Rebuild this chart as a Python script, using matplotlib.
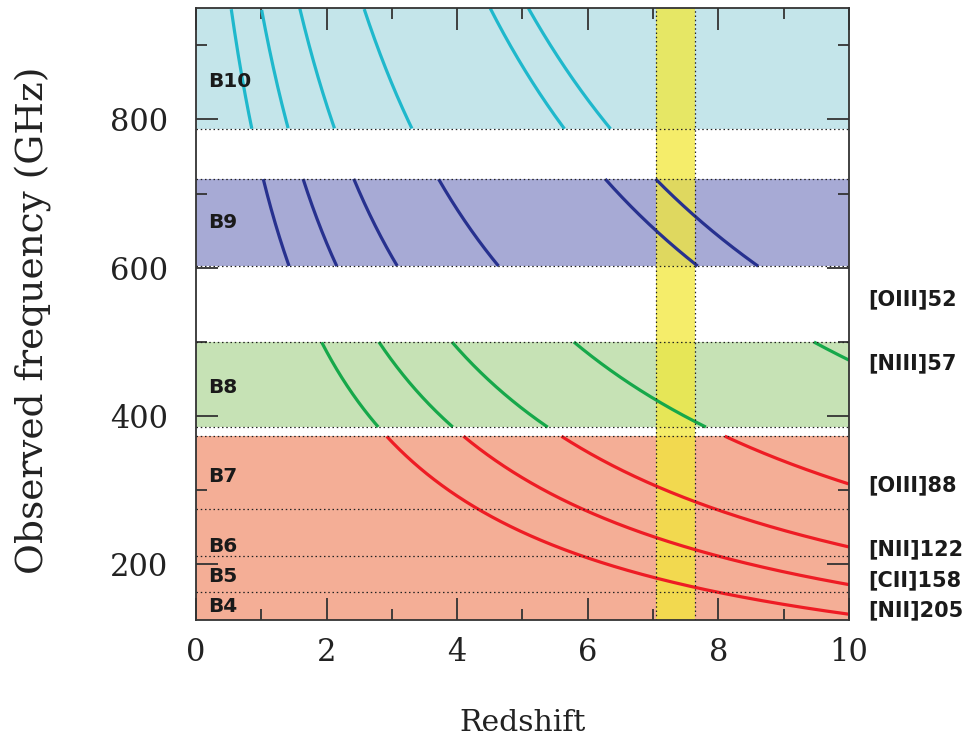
import numpy as np
import matplotlib
matplotlib.use("Agg")
import matplotlib.pyplot as plt
from matplotlib.ticker import MultipleLocator

# ALMA receiver bands (GHz)
band_names = ["B4", "B5", "B6", "B7", "B8", "B9", "B10"]
band_lo = [125, 163, 211, 275, 385, 602, 787]
band_hi = [163, 211, 275, 373, 500, 720, 950]
band_label_y = [143, 184, 224, 318, 439, 661, 851]

# Contiguous coloured regions (B4-B7 share one colour)
region_lo = [125, 385, 602, 787]
region_hi = [373, 500, 720, 950]
region_fill = ["#f4ae96", "#c6e2b5", "#a7aad5", "#c4e5ea"]
region_line = ["#ee1c24", "#16a84a", "#27318f", "#1fb8cc"]

# Far-infrared fine-structure lines: rest frequencies (GHz)
line_names = ["[OIII]52", "[NIII]57", "[OIII]88", "[NII]122", "[CII]158", "[NII]205"]
rest_freq = [5785.9, 5230.4, 3393.0, 2459.4, 1900.5, 1461.1]
label_y = [558, 471, 306, 221, 178, 138]

# Redshift window highlighted in yellow
z_window = [7.05, 7.65]

fig = plt.figure(figsize=(9.76, 7.43), dpi=100)
ax = fig.add_axes([0.2008, 0.1655, 0.6690, 0.8235])
ax.set_xlim(0, 10)
ax.set_ylim(125, 950)

for lo, hi, fc in zip(region_lo, region_hi, region_fill):
    ax.axhspan(lo, hi, color=fc, lw=0, zorder=1)

ax.axvspan(z_window[0], z_window[1], color=(0.95, 0.91, 0.22), alpha=0.75, lw=0, zorder=2)

z = np.linspace(0, 10, 2000)
for nu0 in rest_freq:
    nu = nu0 / (1 + z)
    for lo, hi, lc in zip(region_lo, region_hi, region_line):
        y = np.where((nu >= lo) & (nu <= hi), nu, np.nan)
        ax.plot(z, y, color=lc, lw=2.3, zorder=3, solid_capstyle="butt")

dot = dict(color="#222222", lw=0.9, ls=(0, (1.2, 2.2)), zorder=4)
for edge in sorted(set(band_lo[1:] + band_hi[:-1])):
    ax.axhline(edge, **dot)
for zz in z_window:
    ax.axvline(zz, **dot)

for name, yv in zip(band_names, band_label_y):
    ax.text(0.19, yv, name, fontsize=14.5, fontweight="bold", family="DejaVu Sans",
            va="center", ha="left", color="#1a1a1a", zorder=5)

for name, yv in zip(line_names, label_y):
    ax.text(10.3, yv, name, fontsize=15, fontweight="bold", family="DejaVu Sans",
            va="center", ha="left", color="#1a1a1a", clip_on=False)

ax.xaxis.set_major_locator(MultipleLocator(2))
ax.xaxis.set_minor_locator(MultipleLocator(1))
ax.yaxis.set_major_locator(MultipleLocator(200))
ax.yaxis.set_minor_locator(MultipleLocator(100))
ax.tick_params(which="both", direction="in", top=True, right=True, width=1.3, color="#333333")
ax.tick_params(which="major", length=16, labelsize=22)
ax.tick_params(axis="x", which="major", pad=12)
ax.tick_params(axis="y", which="major", pad=20)
ax.tick_params(which="minor", length=8)
for lab in ax.get_xticklabels() + ax.get_yticklabels():
    lab.set_family("DejaVu Serif")
    lab.set_color("#222222")
for s in ax.spines.values():
    s.set_linewidth(1.3)
    s.set_color("#333333")
    s.set_zorder(6)

ax.set_xlabel("Redshift", family="DejaVu Serif", fontsize=21.5, color="#222222")
ax.set_ylabel("Observed frequency (GHz)", family="DejaVu Serif", fontsize=27, color="#222222")
ax.xaxis.set_label_coords(0.5, -0.145)
ax.yaxis.set_label_coords(-0.22, 0.49)

fig.savefig("out.png", dpi=100)
